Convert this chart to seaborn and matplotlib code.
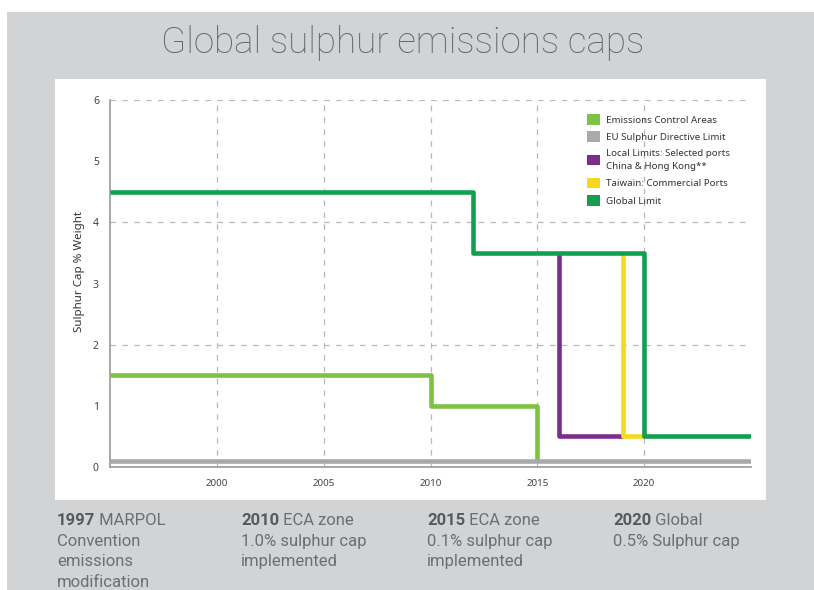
import matplotlib
matplotlib.use("Agg")
import matplotlib.pyplot as plt
from matplotlib.patches import Rectangle, Patch
import numpy as np
import pandas as pd
import seaborn as sns

# --- data -------------------------------------------------------------
global_years = [1995, 2012, 2020, 2025]
global_cap = [4.5, 3.5, 0.5, 0.5]

eca_years = [1995, 2010, 2015, 2015]
eca_cap = [1.5, 1.0, 0.1, 0.1]

eu_years = [1995, 2025]
eu_cap = [0.1, 0.1]

china_years = [2016, 2016, 2019]
china_cap = [3.5, 0.5, 0.5]

taiwan_years = [2019, 2019, 2020]
taiwan_cap = [3.5, 0.5, 0.5]

series_names = [
    "Emissions Control Areas",
    "EU Sulphur Directive Limit",
    "Local Limits: Selected ports\nChina & Hong Kong**",
    "Taiwain: Commercial Ports",
    "Global Limit",
]
series_colors = ["#7dc242", "#a7a9ac", "#7b2d8e", "#f7d91c", "#12a050"]

x_ticks = [2000, 2005, 2010, 2015, 2020]
y_ticks = [0, 1, 2, 3, 4, 5, 6]
y_grid = [2, 4, 6]

milestones = [
    ("1997", " MARPOL", ["Convention", "emissions", "modification"]),
    ("2010", " ECA zone", ["1.0% sulphur cap", "implemented"]),
    ("2015", " ECA zone", ["0.1% sulphur cap", "implemented"]),
    ("2020", " Global", ["0.5% Sulphur cap"]),
]
milestone_x = [57, 241, 427, 613]

title = "Global sulphur emissions caps"

# --- tidy frame -------------------------------------------------------
frames = []
for name, yrs, caps in zip(
    series_names,
    [eca_years, eu_years, china_years, taiwan_years, global_years],
    [eca_cap, eu_cap, china_cap, taiwan_cap, global_cap],
):
    frames.append(pd.DataFrame({"year": yrs, "cap": caps, "series": name}))
df = pd.concat(frames, ignore_index=True)

# --- figure -----------------------------------------------------------
W, H = 814, 590
sns.set_theme(style="white")
plt.rcParams["font.family"] = ["Noto Sans", "DejaVu Sans"]

fig = plt.figure(figsize=(W / 100, H / 100), dpi=100, facecolor="white")

# grey backdrop and white chart card
fig.add_artist(Rectangle((7 / W, 0), 1 - 7 / W, 1 - 12 / H, transform=fig.transFigure,
                         facecolor="#d1d3d4", edgecolor="none", zorder=-2))
fig.add_artist(Rectangle((55 / W, 1 - 500 / H), (766 - 55) / W, (500 - 79) / H,
                         transform=fig.transFigure, facecolor="white",
                         edgecolor="none", zorder=-1))

ax = fig.add_axes([110 / W, 1 - 467 / H, (751 - 110) / W, (467 - 100) / H])
ax.set_facecolor("none")

for g in y_grid:
    ax.axhline(g, color="#b8b8b8", lw=0.9, ls=(0, (4.5, 5)), zorder=0)
for xt in x_ticks:
    ax.axvline(xt, color="#b8b8b8", lw=0.9, ls=(0, (4.5, 5)), zorder=0)

for name, col in zip(series_names, series_colors):
    sub = df[df["series"] == name]
    sns.lineplot(data=sub, x="year", y="cap", ax=ax, color=col, lw=3.3,
                 estimator=None, sort=False, drawstyle="steps-post",
                 solid_capstyle="butt", zorder=3 if name != "Global Limit" else 4)

ax.set_xlim(1995, 2025)
ax.set_ylim(0, 6)
ax.set_xticks(x_ticks)
ax.set_yticks(y_ticks)
ax.tick_params(axis="x", length=0, labelsize=7, labelcolor="#444444", pad=9)
ax.tick_params(axis="y", length=5, width=0.9, color="#999999", direction="out",
               labelsize=7.5, labelcolor="#444444", pad=3)
ax.set_xlabel("")
ax.set_ylabel("Sulphur Cap % Weight", fontsize=8.3, color="#333333")
ax.yaxis.set_label_coords(-0.039, 0.534)

for side in ["top", "right"]:
    ax.spines[side].set_visible(False)
for side in ["left", "bottom"]:
    ax.spines[side].set_color("#999999")
    ax.spines[side].set_linewidth(1.2)

handles = [Patch(facecolor=c, edgecolor="none") for c in series_colors]
leg = ax.legend(handles, series_names, loc="upper left",
                bbox_to_anchor=((587 - 110) / 641, (467 - 114) / 367),
                frameon=False, fontsize=7, handlelength=1.35, handleheight=1.3,
                handletextpad=0.65, labelspacing=0.7, borderpad=0, borderaxespad=0)
for t in leg.get_texts():
    t.set_color("#333333")
    t.set_linespacing(1.6)

# title
fig.text(403 / W, 1 - 53 / H, title, ha="center", va="baseline",
         fontsize=26.5, color="#636466", fontfamily="Roboto", fontweight="light")

# milestone notes under the chart
renderer = fig.canvas.get_renderer()
for (year, head, rest), px in zip(milestones, milestone_x):
    base = 525
    t = fig.text(px / W, 1 - base / H, year, ha="left", va="baseline",
                 fontsize=12, fontweight="bold", color="#58595b", fontfamily="Roboto")
    bb = t.get_window_extent(renderer)
    fig.text(bb.x1 / W, 1 - base / H, head, ha="left", va="baseline",
             fontsize=12, color="#6d6e71", fontfamily="Roboto")
    for i, line in enumerate(rest, start=1):
        fig.text(px / W, 1 - (base + 20.7 * i) / H, line, ha="left", va="baseline",
                 fontsize=12, color="#6d6e71", fontfamily="Roboto")

fig.savefig("out.png", dpi=100, facecolor="white")
